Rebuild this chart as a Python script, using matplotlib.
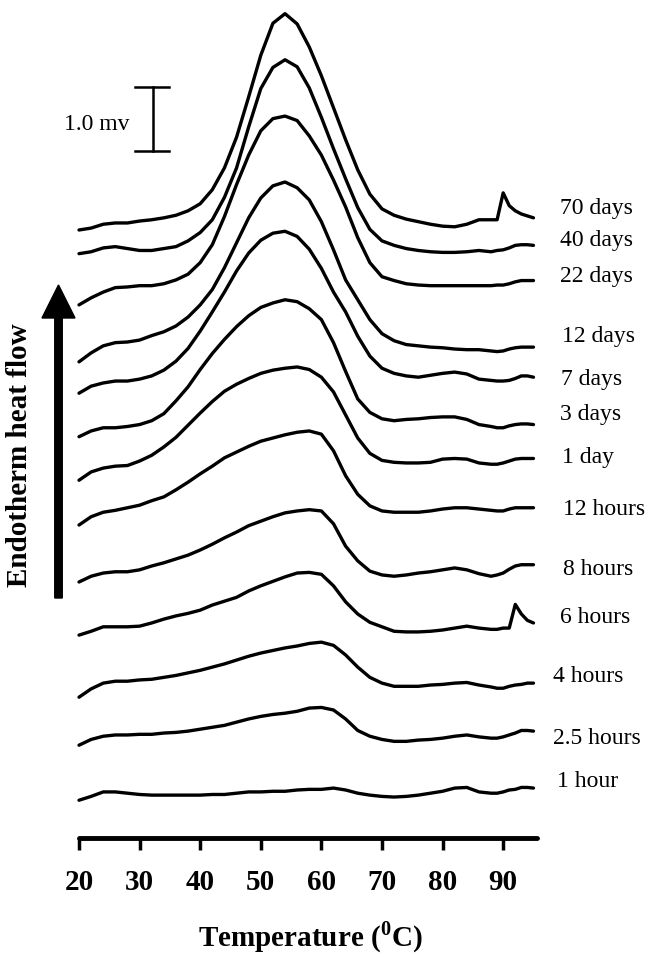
# DSC traces of samples stored for different times, stacked
import numpy as np
import matplotlib
matplotlib.use('Agg')
import matplotlib.pyplot as plt
from matplotlib.patches import FancyArrow

plt.rcParams['font.family'] = ['Liberation Serif', 'DejaVu Serif']
plt.rcParams['mathtext.fontset'] = 'custom'
plt.rcParams['mathtext.rm'] = 'Liberation Serif'
plt.rcParams['mathtext.bf'] = 'Liberation Serif:bold'

# temperature grid (deg C)
temps = [20, 22, 24, 26, 28, 30, 32, 34, 36, 38, 40, 42, 44, 46, 48, 50, 52, 54,
         56, 58, 60, 62, 64, 66, 68, 70, 72, 74, 76, 78, 80, 82, 84, 86, 88,
         89, 90, 91, 92, 93, 94, 95]

labels = ['70 days', '40 days', '22 days', '12 days', '7 days', '3 days', '1 day',
          '12 hours', '8 hours', '6 hours', '4 hours', '2.5 hours', '1 hour']

# heat flow (mV) relative to the value at 20 C
d70 = [0, .03, .09, .11, .11, .14, .16, .19, .23, .30, .41, .63, .97, 1.45, 2.08, 2.73, 3.23, 3.38,
       3.22, 2.86, 2.41, 1.91, 1.41, .94, .56, .33, .23, .17, .13, .09, .06, .05, .09, .16, .16,
       .16, .58, .38, .30, .25, .22, .19]
d40 = [0, .03, .09, .11, .08, .05, .05, .08, .11, .20, .33, .53, .88, 1.34, 1.98, 2.58, 2.91, 3.03,
       2.92, 2.59, 2.13, 1.64, 1.17, .72, .38, .20, .13, .08, .05, .03, .02, .02, .03, .05, .03,
       .05, .06, .09, .13, .14, .14, .13]
d22 = [0, .11, .20, .27, .28, .30, .30, .33, .39, .48, .66, .94, 1.38, 1.88, 2.34, 2.72, 2.91, 2.95,
       2.88, 2.64, 2.34, 1.95, 1.53, 1.05, .66, .44, .38, .33, .31, .30, .30, .30, .30, .30, .30,
       .31, .31, .33, .36, .38, .38, .38]
d12 = [0, .14, .25, .30, .31, .34, .41, .47, .56, .70, .89, 1.13, 1.47, 1.86, 2.25, 2.56, 2.75, 2.81,
       2.72, 2.53, 2.19, 1.75, 1.28, .97, .66, .44, .33, .27, .25, .23, .22, .20, .19, .19, .17,
       .16, .17, .20, .22, .23, .23, .23]
d7 = [0, .11, .16, .19, .19, .22, .27, .36, .50, .70, .97, 1.27, 1.58, 1.91, 2.19, 2.39, 2.50, 2.53,
      2.45, 2.25, 1.95, 1.58, 1.27, .89, .58, .39, .31, .27, .25, .28, .31, .33, .30, .22, .20,
      .19, .19, .20, .23, .27, .27, .25]
d3 = [0, .09, .14, .14, .16, .19, .25, .36, .56, .78, 1.05, 1.30, 1.52, 1.72, 1.89, 2.02, 2.09, 2.14,
      2.11, 2.00, 1.83, 1.47, 1.02, .59, .38, .28, .25, .27, .28, .30, .31, .31, .27, .19, .16,
      .14, .14, .17, .19, .20, .20, .19]
d1 = [0, .13, .19, .22, .23, .30, .39, .52, .67, .86, 1.05, 1.23, 1.39, 1.50, 1.59, 1.67, 1.72, 1.75,
      1.77, 1.73, 1.61, 1.38, 1.02, .66, .42, .31, .28, .27, .27, .28, .33, .34, .33, .27, .25,
      .25, .27, .30, .33, .34, .34, .34]
h12 = [0, .13, .20, .23, .27, .31, .38, .44, .55, .67, .80, .92, 1.05, 1.14, 1.23, 1.31, 1.36, 1.41,
       1.45, 1.47, 1.42, 1.16, .77, .48, .30, .22, .20, .20, .20, .22, .25, .27, .27, .25, .23,
       .22, .22, .25, .27, .27, .27, .27]
h8 = [0, .09, .14, .16, .16, .19, .25, .30, .36, .42, .50, .59, .69, .78, .88, .95, 1.02, 1.08,
      1.11, 1.13, 1.11, .91, .56, .33, .17, .11, .09, .11, .14, .16, .19, .22, .19, .13, .09,
      .11, .14, .20, .25, .27, .27, .27]
h6 = [0, .06, .13, .13, .13, .14, .19, .25, .30, .34, .39, .47, .53, .59, .69, .77, .84, .91,
      .97, .98, .95, .77, .52, .33, .20, .13, .06, .05, .05, .06, .08, .11, .14, .11, .09,
      .09, .11, .11, .48, .33, .23, .19]
h4 = [0, .13, .22, .25, .25, .27, .28, .31, .34, .38, .42, .47, .52, .58, .64, .69, .73, .77,
      .80, .84, .86, .81, .66, .47, .31, .22, .17, .17, .17, .19, .20, .22, .23, .19, .16,
      .14, .14, .17, .19, .20, .22, .22]
h25 = [0, .09, .14, .16, .16, .17, .17, .19, .20, .22, .25, .28, .31, .36, .41, .45, .48, .50,
       .53, .58, .59, .55, .41, .23, .14, .09, .06, .06, .08, .09, .11, .14, .16, .13, .11,
       .11, .13, .16, .19, .23, .23, .22]
h1 = [0, .06, .13, .13, .11, .09, .08, .08, .08, .08, .08, .09, .09, .11, .13, .13, .14, .14,
      .16, .17, .17, .19, .16, .11, .08, .06, .05, .06, .08, .11, .14, .19, .20, .13, .11,
      .11, .13, .16, .17, .20, .20, .19]

curves = [d70, d40, d22, d12, d7, d3, d1, h12, h8, h6, h4, h25, h1]
# vertical shift of each trace (mV)
offsets = [9.50, 9.13, 8.33, 7.44, 6.95, 6.27, 5.59, 4.89, 4.00, 3.17, 2.20, 1.45, 0.59]

# label anchors (T, mV)
label_x = [99.4, 99.4, 99.4, 99.7, 99.5, 99.4, 99.7, 99.9, 99.9, 99.4, 98.2, 98.2, 98.9]
label_y = [9.84, 9.34, 8.78, 7.83, 7.16, 6.61, 5.94, 5.14, 4.20, 3.45, 2.52, 1.56, 0.89]

fig = plt.figure(figsize=(6.49, 9.57), dpi=100)
ax = fig.add_axes([79 / 649, 119 / 957, 457.5 / 649, 838 / 957])

for sig, off in zip(curves, offsets):
    ax.plot(temps, np.array(sig) + off, color='black', lw=2.4,
            solid_joinstyle='round', solid_capstyle='round', clip_on=False)

for name, lx, ly in zip(labels, label_x, label_y):
    ax.text(lx, ly, name, fontsize=17, ha='left', va='center', clip_on=False)

# 1.0 mV scale bar
ax.plot([32.2, 32.2], [10.73, 11.73], color='black', lw=1.8, clip_on=False)
ax.plot([29.2, 34.9], [10.73, 10.73], color='black', lw=1.8, clip_on=False)
ax.plot([29.2, 34.9], [11.73, 11.73], color='black', lw=1.8, clip_on=False)
ax.text(28.4, 11.15, '1.0 mv', fontsize=17, ha='right', va='center')

ax.set_xlim(20, 95.5)
ax.set_ylim(0, 838 / 64)
ax.set_xticks(range(20, 91, 10))
ax.set_yticks([])
ax.tick_params(axis='x', direction='out', length=8.5, width=2.5, pad=14, labelsize=21)
for lbl in ax.get_xticklabels():
    lbl.set_fontweight('bold')
for s in ['left', 'top', 'right']:
    ax.spines[s].set_visible(False)
ax.spines['bottom'].set_linewidth(3.5)
ax.spines['bottom'].set_capstyle('round')

# endotherm arrow
arr = FancyArrow(0.585, 3.59, 0, 3.13, width=0.075, head_width=0.33, head_length=0.33,
                 length_includes_head=True, color='black', transform=fig.dpi_scale_trans)
fig.add_artist(arr)
fig.text(20 / 649, 1 - 455 / 957, 'Endotherm heat flow', rotation=90, fontsize=21,
         fontweight='bold', ha='center', va='center')
fig.text(310 / 649, 1 - 937 / 957, r'Temperature ($^{\mathbf{0}}$C)', fontsize=21,
         fontweight='bold', ha='center', va='center')

fig.savefig('out.png', dpi=100)
